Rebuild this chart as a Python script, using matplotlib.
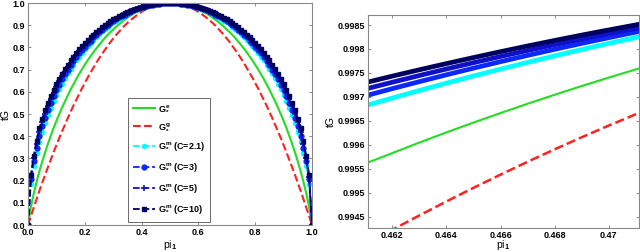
import numpy as np
import matplotlib
matplotlib.use("Agg")
import matplotlib.pyplot as plt
from matplotlib.ticker import FuncFormatter

plt.rcParams["font.family"] = ["Liberation Sans", "DejaVu Sans"]
plt.rcParams["font.weight"] = "bold"
plt.rcParams["mathtext.fontset"] = "custom"
plt.rcParams["mathtext.rm"] = "Liberation Sans:bold"
plt.rcParams["mathtext.it"] = "Liberation Sans:bold"
plt.rcParams["mathtext.bf"] = "Liberation Sans:bold"

# ---------- data: full range (pi_1 = 0 .. 1, step 0.01) ----------
pi1 = np.round(np.arange(101) * 0.01, 2)

g_e = [0, .081, .141, .194, .242, .286, .327, .366, .402, .437, .469,
       .500, .529, .557, .584, .610, .634, .658, .680, .702, .722,
       .742, .760, .778, .795, .811, .827, .842, .856, .869, .881,
       .893, .904, .915, .925, .934, .943, .951, .958, .965, .971,
       .977, .982, .986, .990, .993, .995, .997, .999, 1.0, 1.0,
       1.0, .999, .997, .995, .993, .990, .986, .982, .977,
       .971, .965, .958, .951, .943, .934, .925, .915, .904, .893,
       .881, .869, .856, .842, .827, .811, .795, .778, .760, .742,
       .722, .702, .680, .658, .634, .610, .584, .557, .529, .500,
       .469, .437, .402, .366, .327, .286, .242, .194, .141, .081, 0]

g_g = [0, .040, .078, .116, .154, .190, .226, .260, .294, .328, .360,
       .392, .422, .452, .482, .510, .538, .564, .590, .616, .640,
       .664, .686, .708, .730, .750, .770, .788, .806, .824, .840,
       .856, .870, .884, .898, .910, .922, .932, .942, .952, .960,
       .968, .974, .980, .986, .990, .994, .996, .998, 1.0, 1.0,
       1.0, .998, .996, .994, .990, .986, .980, .974, .968,
       .960, .952, .942, .932, .922, .910, .898, .884, .870, .856,
       .840, .824, .806, .788, .770, .750, .730, .708, .686, .664,
       .640, .616, .590, .564, .538, .510, .482, .452, .422, .392,
       .360, .328, .294, .260, .226, .190, .154, .116, .078, .040, 0]

g_m21 = [0, .185, .264, .325, .376, .420, .459, .495, .528, .558, .586,
         .613, .637, .661, .683, .703, .723, .742, .759, .776, .792,
         .807, .821, .835, .848, .860, .872, .883, .893, .904, .913,
         .921, .930, .937, .945, .952, .958, .964, .969, .974, .979,
         .983, .987, .990, .992, .995, .997, .998, .999, 1.0, 1.0,
         1.0, .999, .998, .997, .995, .992, .990, .987, .983,
         .979, .974, .969, .964, .958, .952, .945, .937, .930, .921,
         .913, .904, .893, .883, .872, .860, .848, .835, .821, .807,
         .792, .776, .759, .742, .723, .703, .683, .661, .637, .613,
         .586, .558, .528, .495, .459, .420, .376, .325, .264, .185, 0]

g_m3 = [0, .206, .288, .349, .400, .444, .483, .518, .550, .579, .607,
        .633, .656, .679, .700, .719, .738, .756, .773, .789, .804,
        .819, .831, .845, .857, .869, .880, .890, .900, .909, .919,
        .927, .935, .941, .948, .955, .961, .967, .971, .976, .980,
        .984, .987, .990, .993, .995, .997, .998, .999, 1.0, 1.0,
        1.0, .999, .998, .997, .995, .993, .990, .987, .984,
        .980, .976, .971, .967, .961, .955, .948, .941, .935, .927,
        .919, .909, .900, .890, .880, .869, .857, .845, .831, .819,
        .804, .789, .773, .756, .738, .719, .700, .679, .656, .633,
        .607, .579, .550, .518, .483, .444, .400, .349, .288, .206, 0]

g_m5 = [0, .215, .300, .367, .418, .462, .500, .534, .566, .594, .621,
        .647, .670, .691, .712, .731, .748, .766, .782, .798, .812,
        .826, .839, .852, .863, .875, .885, .895, .904, .914, .922,
        .930, .938, .944, .951, .957, .963, .968, .972, .977, .981,
        .985, .988, .991, .993, .995, .997, .998, .999, 1.0, 1.0,
        1.0, .999, .998, .997, .995, .993, .991, .988, .985,
        .981, .977, .972, .968, .963, .957, .951, .944, .938, .930,
        .922, .914, .904, .895, .885, .875, .863, .852, .839, .826,
        .812, .798, .782, .766, .748, .731, .712, .691, .670, .647,
        .621, .594, .566, .534, .500, .462, .418, .367, .300, .215, 0]

g_m10 = [0, .225, .310, .380, .436, .479, .517, .550, .582, .609, .635,
         .660, .682, .704, .723, .742, .759, .776, .791, .807, .820,
         .834, .845, .858, .869, .880, .890, .900, .909, .918, .926,
         .933, .941, .946, .953, .959, .964, .969, .974, .978, .982,
         .986, .989, .991, .994, .996, .997, .998, .999, 1.0, 1.0,
         1.0, .999, .998, .997, .996, .994, .991, .989, .986,
         .982, .978, .974, .969, .964, .959, .953, .946, .941, .933,
         .926, .918, .909, .900, .890, .880, .869, .858, .845, .834,
         .820, .807, .791, .776, .759, .742, .723, .704, .682, .660,
         .635, .609, .582, .550, .517, .479, .436, .380, .310, .225, 0]

# ---------- data: zoom near pi_1 = 0.466 ----------
zoom_pi = [0.461, 0.462, 0.463, 0.464, 0.465, 0.466,
           0.467, 0.468, 0.469, 0.470, 0.471, 0.472]
zoom_g = [.993916, .994224, .994524, .994816, .995100, .995376,
          .995644, .995904, .996156, .996400, .996636, .996864]
zoom_e = [.995607, .995826, .996046, .996258, .996463, .996662,
          .996856, .997044, .997226, .997402, .997573, .997737]
zoom_m21 = [.996815, .996976, .997133, .997287, .997435, .997580,
            .997720, .997856, .997988, .998116, .998239, .998359]
zoom_m3 = [.997021, .997172, .997318, .997461, .997600, .997735,
           .997866, .997993, .998117, .998236, .998352, .998463]
zoom_m5 = [.997163, .997306, .997446, .997582, .997714, .997843,
           .997968, .998089, .998206, .998320, .998429, .998536]
zoom_m10 = [.997296, .997433, .997566, .997695, .997821, .997944,
            .998063, .998178, .998290, .998398, .998503, .998604]

labels = [r"$\mathbf{G}_{*}^{e}$", r"$\mathbf{G}_{*}^{g}$",
          r"$\mathbf{G}_{*}^{m}$ (C=2.1)", r"$\mathbf{G}_{*}^{m}$ (C=3)",
          r"$\mathbf{G}_{*}^{m}$ (C=5)", r"$\mathbf{G}_{*}^{m}$ (C=10)"]
c_e, c_g = "#22dd22", "#ff2020"
c_m = ["#00ffff", "#0a28ff", "#1010c8", "#000060"]
mk = [dict(marker=".", ms=6), dict(marker="o", ms=3.5),
      dict(marker="+", ms=4, mew=1.2), dict(marker="s", ms=3.5)]

fig = plt.figure(figsize=(6.4, 2.52), dpi=100)
ax1 = fig.add_axes([0.0438, 0.107, 0.4437, 0.881])
ax2 = fig.add_axes([0.575, 0.095, 0.4234, 0.8455])

# ---------- left: full range ----------
ax1.plot(pi1, g_e, "-", color=c_e, lw=1.5, label=labels[0])
ax1.plot(pi1, g_g, "--", color=c_g, lw=1.5, label=labels[1])
for ys, c, m, lab in zip([g_m21, g_m3, g_m5, g_m10], c_m, mk, labels[2:]):
    ax1.plot(pi1, ys, "--", color=c, lw=1.3, mec=c, mfc=c, label=lab, **m)
ax1.set_xlim(0, 1); ax1.set_ylim(0, 1)
ax1.set_xticks(np.arange(0, 1.01, 0.2))
ax1.set_yticks(np.arange(0, 1.01, 0.1))
ax1.set_xlabel(r"pi$_1$", fontsize=7.5, labelpad=1)
ax1.set_ylabel("tG", fontsize=7.5, labelpad=1)
leg = ax1.legend(loc="lower center", bbox_to_anchor=(0.497, 0.0), fontsize=6.5,
                 frameon=True, fancybox=False, edgecolor="#444444",
                 handlelength=2.4, labelspacing=0.95, borderpad=0.6,
                 handletextpad=0.3, borderaxespad=0.35)
leg.get_frame().set_linewidth(0.7)

# ---------- right: zoom ----------
ax2.plot(zoom_pi, zoom_e, "-", color=c_e, lw=1.5)
ax2.plot(zoom_pi, zoom_g, "--", color=c_g, lw=1.8)
for ys, c in zip([zoom_m21, zoom_m3, zoom_m5, zoom_m10], c_m):
    ax2.plot(zoom_pi, ys, "-", color=c, lw=3.4, solid_capstyle="butt")
ax2.set_xlim(0.4611, 0.47112)
ax2.set_ylim(0.99426, 0.99871)
ax2.set_xticks([0.462, 0.464, 0.466, 0.468, 0.470])
ax2.set_yticks(np.arange(0.9945, 0.99851, 0.0005))
fmt = FuncFormatter(lambda v, p: f"{v:.4f}".rstrip("0").rstrip("."))
ax2.xaxis.set_major_formatter(fmt)
ax2.yaxis.set_major_formatter(fmt)
ax2.set_xlabel(r"pi$_1$", fontsize=7.5, labelpad=-1)
ax2.set_ylabel("tG", fontsize=7.5, labelpad=1)

for ax in (ax1, ax2):
    ax.tick_params(direction="in", top=True, right=True, length=2.5,
                   width=0.6, labelsize=6.5, pad=2, colors="#777777",
                   labelcolor="black")
    for s in ax.spines.values():
        s.set_color("#888888"); s.set_linewidth(0.8)

fig.savefig("out.png", dpi=100)
